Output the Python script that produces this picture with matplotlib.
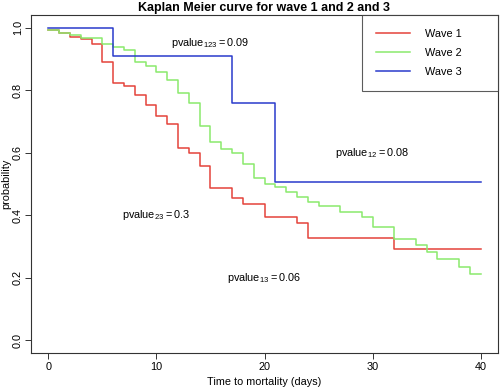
#!/usr/bin/env python3
"""Kaplan Meier curves for the three waves, R base-graphics look."""

import matplotlib
matplotlib.use("Agg")
import matplotlib.pyplot as plt

# ── Data ──────────────────────────────────────────────────────────────────────

wave1_time = [0, 1, 2, 3, 4, 5, 6, 7, 8, 9, 10, 11, 12, 13, 14, 15, 17, 18,
              20, 23, 24, 32, 40]
wave1_surv = [0.993, 0.984, 0.970, 0.963, 0.948, 0.889, 0.824, 0.813, 0.785,
              0.751, 0.717, 0.692, 0.615, 0.600, 0.559, 0.486, 0.456, 0.437,
              0.396, 0.374, 0.326, 0.291, 0.291]

wave2_time = [0, 1, 2, 3, 5, 6, 7, 8, 9, 10, 11, 12, 13, 14, 15, 16, 17, 18,
              19, 20, 21, 22, 23, 24, 25, 27, 29, 30, 32, 34, 35, 36, 38, 39,
              40]
wave2_surv = [0.993, 0.984, 0.976, 0.967, 0.949, 0.937, 0.929, 0.891, 0.876,
              0.859, 0.832, 0.792, 0.758, 0.686, 0.633, 0.612, 0.598, 0.565,
              0.518, 0.501, 0.490, 0.475, 0.459, 0.442, 0.429, 0.412, 0.396,
              0.362, 0.323, 0.304, 0.282, 0.261, 0.236, 0.211, 0.211]

wave3_time = [0, 6, 17, 21, 40]
wave3_surv = [1.0, 0.909, 0.758, 0.505, 0.505]

series_labels = ["Wave 1", "Wave 2", "Wave 3"]
series_colors = ["#e4433a", "#8aea6c", "#2a3bcb"]

# p-value annotations: (label, x, y)
pvalues = [
    (r"$\mathregular{pvalue_{123} = 0.09}$", 15, 0.95),
    (r"$\mathregular{pvalue_{12} = 0.08}$", 30, 0.60),
    (r"$\mathregular{pvalue_{23} = 0.3}$", 10, 0.40),
    (r"$\mathregular{pvalue_{13} = 0.06}$", 20, 0.20),
]

x_ticks = [0, 10, 20, 30, 40]
y_ticks = [0.0, 0.2, 0.4, 0.6, 0.8, 1.0]

# ── Plot ──────────────────────────────────────────────────────────────────────

plt.rcParams["font.family"] = ["Liberation Sans", "DejaVu Sans"]
plt.rcParams["mathtext.fontset"] = "custom"
plt.rcParams["mathtext.rm"] = "Liberation Sans"

fs = 7.8

fig = plt.figure(figsize=(5.0, 3.87), dpi=100)
ax = fig.add_axes([0.062, 0.088, 0.934, 0.873])

for t, s, lab, col in zip([wave1_time, wave2_time, wave3_time],
                          [wave1_surv, wave2_surv, wave3_surv],
                          series_labels, series_colors):
    ax.step(t, s, where="post", color=col, lw=1.1, label=lab)

for txt, x, y in pvalues:
    ax.text(x, y, txt, ha="center", va="center", fontsize=fs)

ax.set_xlim(-1.6, 41.6)
ax.set_ylim(-0.04, 1.04)
ax.set_xticks(x_ticks)
ax.set_xticklabels([str(v) for v in x_ticks])
ax.set_yticks(y_ticks)
ax.set_yticklabels([f"{v:.1f}" for v in y_ticks], rotation=90, va="center")
ax.tick_params(direction="out", length=4.3, width=0.7, labelsize=fs,
               color="#333333")
ax.tick_params(axis="x", pad=2.5)
ax.tick_params(axis="y", pad=1.5)

for sp in ax.spines.values():
    sp.set_color("#333333")
    sp.set_linewidth(0.8)

ax.set_xlabel("Time to mortality (days)", fontsize=fs)
ax.xaxis.set_label_coords(0.5, -0.072)
ax.set_ylabel("probability", fontsize=fs)
ax.yaxis.set_label_coords(-0.042, 0.5)
ax.set_title("Kaplan Meier curve for wave 1 and 2 and 3", fontsize=9,
             fontweight="bold", pad=3)

leg = ax.legend(loc="upper left", bbox_to_anchor=(0.709, 0.0, 0.291, 1.0),
                mode="expand", fontsize=fs, frameon=True, fancybox=False,
                borderaxespad=0, borderpad=1.25, labelspacing=0.85,
                handlelength=3.2, handletextpad=1.35)
leg.get_frame().set_edgecolor("#333333")
leg.get_frame().set_linewidth(0.8)

fig.savefig("out.png", dpi=100)
